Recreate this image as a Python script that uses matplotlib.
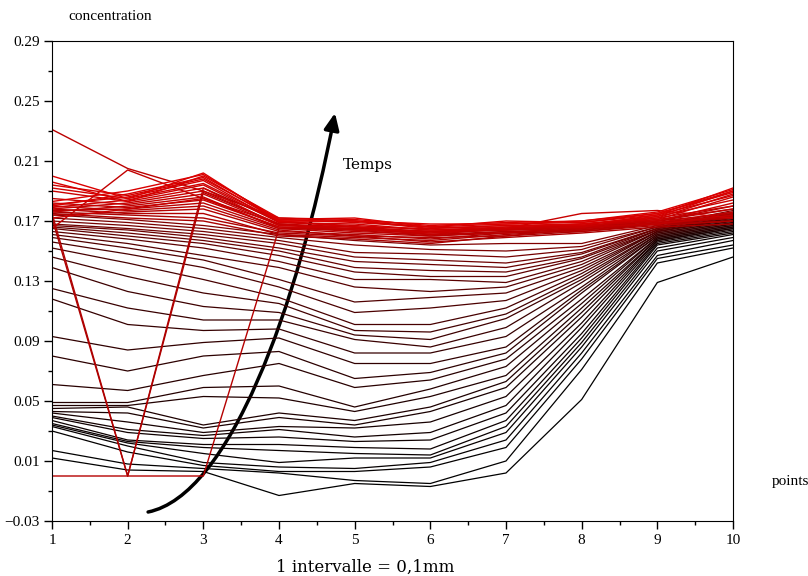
import matplotlib
matplotlib.use("Agg")
import matplotlib.pyplot as plt
from matplotlib.patches import FancyArrowPatch
from matplotlib.path import Path
import numpy as np

points = [1, 2, 3, 4, 5, 6, 7, 8, 9, 10]

# early profiles (black -> dark red), values at each measuring point, ranked low -> high
sombre_p1 = [0.012, 0.017, 0.030, 0.033, 0.034, 0.035, 0.037, 0.039, 0.040, 0.042, 0.043,
             0.045, 0.047, 0.049, 0.061, 0.080, 0.093, 0.118, 0.125, 0.139, 0.146, 0.152,
             0.156, 0.159, 0.161, 0.163, 0.165, 0.166, 0.167, 0.168, 0.170, 0.172, 0.174]
sombre_p2 = [0.004, 0.008, 0.016, 0.020, 0.022, 0.023, 0.024, 0.029, 0.031, 0.036, 0.042,
             0.046, 0.047, 0.049, 0.057, 0.070, 0.084, 0.101, 0.112, 0.123, 0.133, 0.142,
             0.148, 0.152, 0.155, 0.158, 0.160, 0.162, 0.164, 0.165, 0.167, 0.169, 0.171]
sombre_p3 = [0.003, 0.005, 0.007, 0.009, 0.015, 0.019, 0.021, 0.025, 0.027, 0.029, 0.032,
             0.034, 0.053, 0.059, 0.067, 0.080, 0.089, 0.097, 0.104, 0.113, 0.122, 0.131,
             0.139, 0.144, 0.147, 0.152, 0.155, 0.157, 0.159, 0.161, 0.163, 0.165, 0.167]
sombre_p4 = [-0.013, 0.002, 0.003, 0.006, 0.009, 0.017, 0.021, 0.026, 0.031, 0.033, 0.039,
             0.042, 0.052, 0.060, 0.075, 0.083, 0.092, 0.098, 0.104, 0.109, 0.115, 0.119,
             0.126, 0.131, 0.139, 0.143, 0.147, 0.150, 0.152, 0.155, 0.157, 0.159, 0.161]
sombre_p5 = [-0.005, -0.003, 0.003, 0.005, 0.012, 0.015, 0.019, 0.023, 0.026, 0.032, 0.034,
             0.037, 0.043, 0.046, 0.059, 0.065, 0.075, 0.082, 0.091, 0.094, 0.097, 0.101,
             0.109, 0.116, 0.126, 0.131, 0.136, 0.139, 0.143, 0.146, 0.149, 0.154, 0.157]
sombre_p6 = [-0.007, -0.005, 0.006, 0.009, 0.012, 0.014, 0.018, 0.024, 0.029, 0.036, 0.043,
             0.046, 0.053, 0.058, 0.064, 0.069, 0.075, 0.082, 0.086, 0.091, 0.096, 0.101,
             0.112, 0.119, 0.123, 0.131, 0.133, 0.137, 0.141, 0.144, 0.148, 0.151, 0.154]
sombre_p7 = [0.002, 0.010, 0.019, 0.024, 0.029, 0.033, 0.037, 0.042, 0.047, 0.053, 0.059,
             0.063, 0.067, 0.073, 0.078, 0.082, 0.086, 0.093, 0.099, 0.105, 0.108, 0.112,
             0.117, 0.122, 0.126, 0.129, 0.133, 0.136, 0.139, 0.142, 0.146, 0.150, 0.155]
sombre_p8 = [0.051, 0.071, 0.078, 0.082, 0.086, 0.089, 0.092, 0.095, 0.099, 0.102, 0.106,
             0.109, 0.112, 0.115, 0.118, 0.122, 0.124, 0.126, 0.129, 0.131, 0.133, 0.135,
             0.137, 0.139, 0.141, 0.143, 0.145, 0.146, 0.148, 0.149, 0.151, 0.153, 0.155]
sombre_p9 = [0.129, 0.142, 0.145, 0.147, 0.150, 0.152, 0.154, 0.155, 0.156, 0.157, 0.157,
             0.158, 0.158, 0.159, 0.159, 0.160, 0.160, 0.161, 0.161, 0.162, 0.162, 0.163,
             0.163, 0.163, 0.164, 0.164, 0.164, 0.165, 0.165, 0.165, 0.166, 0.166, 0.167]
sombre_p10 = [0.146, 0.152, 0.154, 0.157, 0.159, 0.161, 0.162, 0.163, 0.164, 0.165, 0.165,
              0.166, 0.166, 0.167, 0.167, 0.168, 0.168, 0.169, 0.169, 0.170, 0.170, 0.171,
              0.171, 0.172, 0.172, 0.173, 0.173, 0.174, 0.174, 0.175, 0.175, 0.176, 0.177]

# late profiles (red), one list per time step
profils_rouges = [
    [0.175, 0.172, 0.170, 0.160, 0.158, 0.155, 0.160, 0.163, 0.168, 0.170],
    [0.176, 0.174, 0.172, 0.162, 0.160, 0.156, 0.159, 0.162, 0.166, 0.168],
    [0.172, 0.000, 0.192, 0.170, 0.166, 0.161, 0.163, 0.164, 0.168, 0.172],
    [0.175, 0.000, 0.189, 0.168, 0.164, 0.160, 0.162, 0.165, 0.169, 0.174],
    [0.178, 0.175, 0.175, 0.161, 0.159, 0.157, 0.161, 0.164, 0.169, 0.172],
    [0.174, 0.176, 0.178, 0.163, 0.161, 0.158, 0.162, 0.163, 0.167, 0.170],
    [0.000, 0.000, 0.000, 0.165, 0.165, 0.163, 0.165, 0.166, 0.170, 0.178],
    [0.180, 0.177, 0.180, 0.164, 0.160, 0.159, 0.160, 0.165, 0.170, 0.175],
    [0.177, 0.178, 0.182, 0.165, 0.162, 0.160, 0.163, 0.164, 0.168, 0.173],
    [0.231, 0.205, 0.190, 0.172, 0.170, 0.166, 0.165, 0.167, 0.170, 0.180],
    [0.182, 0.179, 0.184, 0.166, 0.163, 0.161, 0.162, 0.166, 0.171, 0.178],
    [0.176, 0.180, 0.186, 0.165, 0.164, 0.162, 0.164, 0.165, 0.169, 0.176],
    [0.165, 0.204, 0.185, 0.168, 0.166, 0.163, 0.164, 0.166, 0.168, 0.174],
    [0.185, 0.181, 0.188, 0.167, 0.165, 0.161, 0.165, 0.166, 0.172, 0.180],
    [0.178, 0.182, 0.190, 0.168, 0.164, 0.163, 0.164, 0.167, 0.170, 0.182],
    [0.172, 0.178, 0.185, 0.166, 0.165, 0.163, 0.165, 0.175, 0.177, 0.172],
    [0.190, 0.183, 0.192, 0.167, 0.166, 0.162, 0.166, 0.166, 0.173, 0.184],
    [0.179, 0.184, 0.194, 0.169, 0.167, 0.164, 0.165, 0.168, 0.171, 0.186],
    [0.192, 0.185, 0.195, 0.170, 0.166, 0.165, 0.167, 0.167, 0.174, 0.187],
    [0.181, 0.186, 0.197, 0.169, 0.168, 0.164, 0.166, 0.168, 0.172, 0.188],
    [0.194, 0.187, 0.198, 0.171, 0.169, 0.166, 0.168, 0.169, 0.175, 0.189],
    [0.180, 0.188, 0.199, 0.170, 0.170, 0.165, 0.167, 0.168, 0.173, 0.190],
    [0.196, 0.183, 0.200, 0.172, 0.171, 0.167, 0.169, 0.170, 0.176, 0.191],
    [0.183, 0.190, 0.201, 0.171, 0.172, 0.166, 0.170, 0.169, 0.174, 0.192],
    [0.200, 0.185, 0.202, 0.170, 0.170, 0.168, 0.168, 0.170, 0.175, 0.190],
]

y_ticks = [-0.03, 0.01, 0.05, 0.09, 0.13, 0.17, 0.21, 0.25, 0.29]

sombres = np.column_stack([sombre_p1, sombre_p2, sombre_p3, sombre_p4, sombre_p5,
                           sombre_p6, sombre_p7, sombre_p8, sombre_p9, sombre_p10])

serif = ["Liberation Serif", "DejaVu Serif"]

fig = plt.figure(figsize=(8.08, 5.76), dpi=100)
ax = fig.add_axes([52 / 808, 1 - 521 / 576, 681 / 808, 480 / 576])

# black -> dark red for the early curves, then red for the late ones
n_s = len(sombres)
for i, p in enumerate(sombres):
    r = 0.5 * (i / (n_s - 1)) ** 1.4
    ax.plot(points, p, color=(r, 0.0, 0.0), lw=0.9)
n_r = len(profils_rouges)
for j, p in enumerate(profils_rouges):
    r = 0.66 + 0.2 * j / (n_r - 1)
    ax.plot(points, p, color=(r, 0.0, 0.0), lw=1.0)

ax.set_xlim(1, 10)
ax.set_ylim(-0.03, 0.29)
ax.set_xticks(points)
ax.set_xticks(np.arange(1.5, 10, 1.0), minor=True)
ax.set_yticks(y_ticks)
ax.set_yticklabels([f"{v:.2f}".replace("-", "\u2212") for v in y_ticks])
ax.set_yticks(np.arange(-0.01, 0.29, 0.04), minor=True)
ax.tick_params(which="major", direction="out", length=6, width=1, pad=3, labelsize=11)
ax.tick_params(which="minor", direction="out", length=3, width=1)
for lab in ax.get_xticklabels() + ax.get_yticklabels():
    lab.set_family(serif)

# curved arrow for time (cubic curve, flat at the start, steep at the head)
fleche = Path([(2.27, -0.024), (3.34, -0.013), (4.24, 0.111), (4.74, 0.242)],
              [Path.MOVETO, Path.CURVE4, Path.CURVE4, Path.CURVE4])
ax.add_patch(FancyArrowPatch(path=fleche, arrowstyle="-|>,head_length=1.0,head_width=0.45",
                             mutation_scale=10, lw=2.5, color="black", clip_on=False))
ax.text(4.85, 0.207, "Temps", family="DejaVu Serif", fontsize=11, va="center", ha="left")

fig.text(110 / 808, 1 - 17 / 576, "concentration", family=serif, fontsize=11,
         ha="center", va="center")
fig.text(772 / 808, 1 - 482 / 576, "points", family=serif, fontsize=11,
         ha="left", va="center")
fig.text(365 / 808, 1 - 567 / 576, "1 intervalle = 0,1mm", family="DejaVu Serif",
         fontsize=12, ha="center", va="center")

fig.savefig("out.png", dpi=100)
